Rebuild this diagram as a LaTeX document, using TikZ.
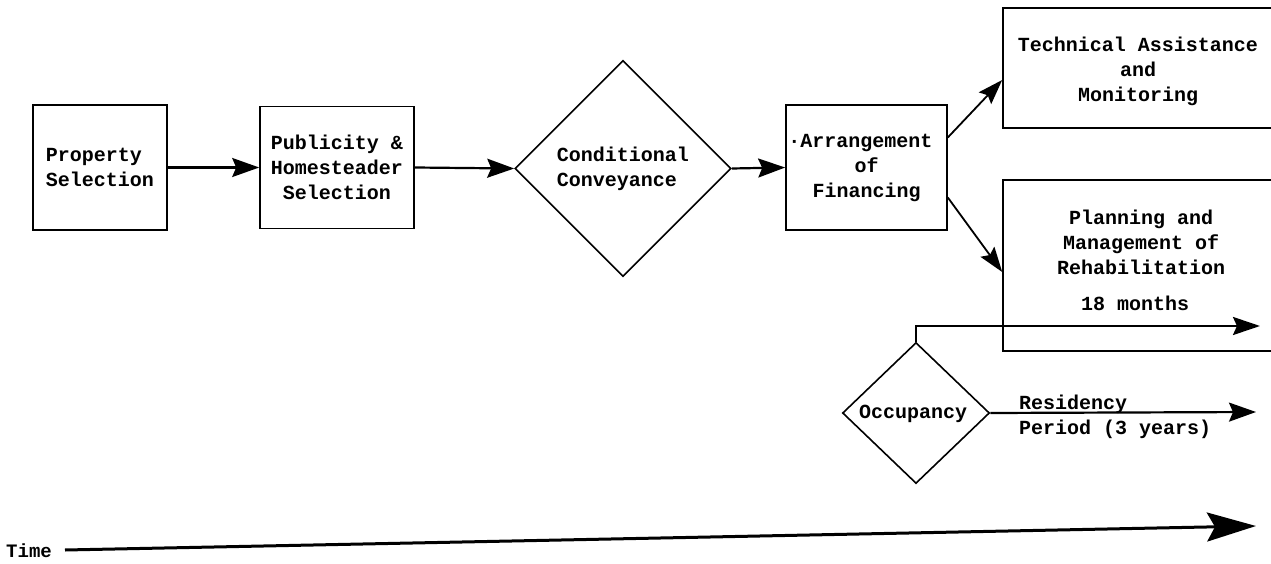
\documentclass[tikz,border=0pt]{standalone}
\usepackage{fontspec}
\setmainfont{Liberation Mono}
\usetikzlibrary{arrows.meta,shapes.geometric,calc}
\begin{document}
\begin{tikzpicture}[x=1pt,y=-1pt,
  every node/.style={font=\fontsize{20}{25}\selectfont\bfseries},
  box/.style={draw,line width=1.6pt,rectangle,inner sep=0pt},
  dia/.style={draw,line width=1.6pt,diamond,inner sep=0pt},
  lbl/.style={inner sep=0pt,align=center},
  flow/.style={line width=2.2pt,-{Stealth[length=27pt,width=19pt,inset=4pt]}},
  sflow/.style={line width=1.8pt,-{Stealth[length=25pt,width=17pt,inset=4pt]}},
  timeflow/.style={line width=3pt,-{Stealth[length=49pt,width=29pt,inset=8pt]}}
]
\useasboundingbox (0,0) rectangle (1271,564);
\clip (0,0) rectangle (1271,564);

\node[box,minimum width=134pt,minimum height=125pt,align=left] (prop) at (100,167.5) {Property\\Selection};
\node[box,minimum width=154pt,minimum height=122pt,align=center] (pub) at (337,167.5) {Publicity \&\\Homesteader\\Selection};
\node[dia,minimum width=216pt,minimum height=216pt,align=left] (cond) at (623,168.5) {Conditional\\Conveyance};
\node[box,minimum width=161pt,minimum height=125pt,align=center] (fin) at (866.5,167.5) {\llap{·}Arrangement\\of\\Financing};

\node[box,minimum width=287pt,minimum height=120pt] (tech) at (1146.5,68) {};
\node[lbl] (techlbl) at (1138,71) {Technical Assistance\\and\\Monitoring};

\node[box,minimum width=287pt,minimum height=171pt] (plan) at (1146.5,265.5) {};
\node[lbl] (planlbl) at (1141,242) {Planning and\\ Management of\\Rehabilitation};
\node[lbl] (months) at (1135,303) {18 months};

\node[dia,minimum width=147pt,minimum height=141pt] (occ) at (916,413) {};
\node[lbl] (occlbl) at (913,414) {Occupancy};

\node[lbl,anchor=base west] (resA) at (1019,409) {Residency};
\node[lbl,anchor=base west] (resB) at (1019,434) {Period (3 years)};

\node[lbl,anchor=base west,font=\fontsize{19}{20}\selectfont\bfseries] (timelbl) at (6,557) {Time};

\coordinate (m18) at (1260,326);
\coordinate (resend) at (1256,412);
\coordinate (t0) at (65,550);
\coordinate (t1) at (1256,526);

\draw[flow] (prop.east) -- (pub.west);
\draw[flow] (pub.east) -- (cond.west);
\draw[flow] (cond.east) -- (fin.west);
\draw[sflow] ([yshift=30pt]fin.east) -- ([yshift=-12pt]tech.west);
\draw[sflow] ([yshift=-30pt]fin.east) -- ([yshift=-6.5pt]plan.west);
\draw[line width=2.6pt,-{Stealth[length=27pt,width=18pt,inset=4pt]}] (occ.north) |- (m18);
\draw[flow] (occ.east) -- (resend);
\draw[timeflow] (t0) -- (t1);
\end{tikzpicture}
\end{document}
